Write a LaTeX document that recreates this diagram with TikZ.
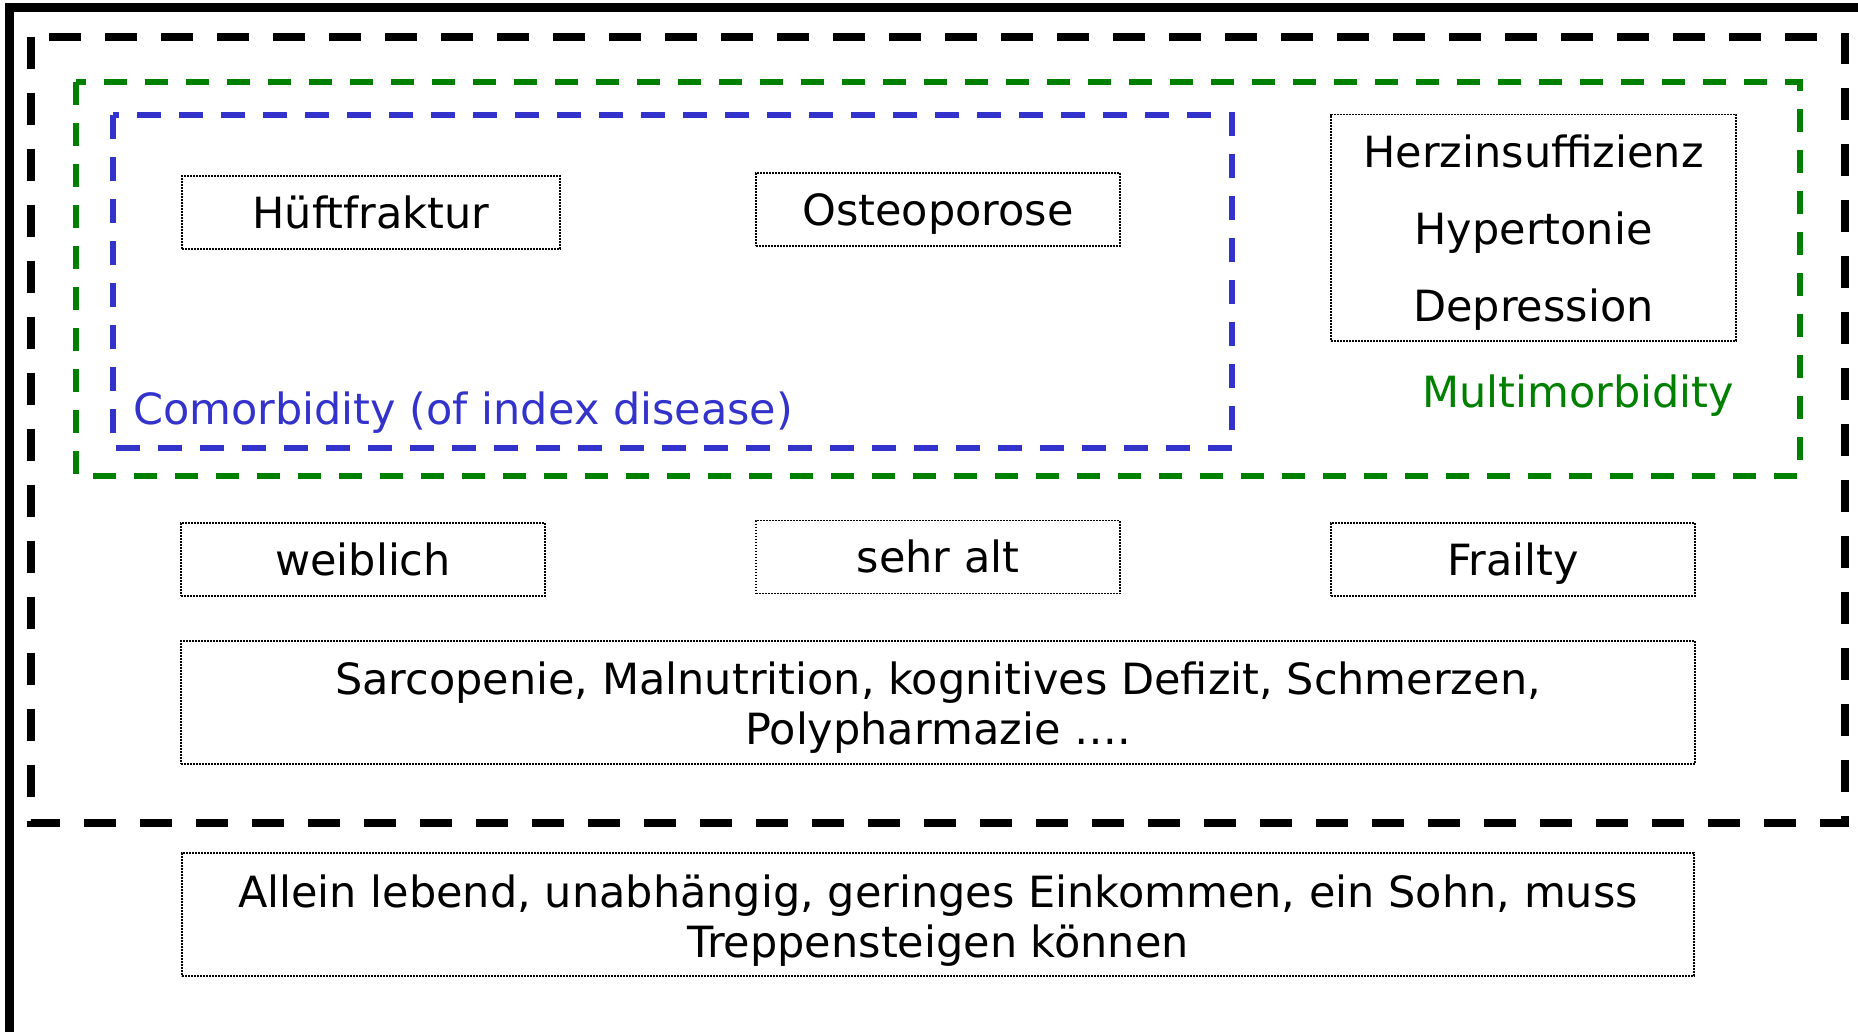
\documentclass[tikz,border=0pt]{standalone}
\usepackage{fontspec}
\setmainfont{DejaVu Sans}
\definecolor{mgreen}{RGB}{0,128,0}
\definecolor{mblue}{RGB}{51,51,204}
\begin{document}
\begin{tikzpicture}[x=1pt,y=-1pt,
  box/.style={draw=black, line width=1.6pt, dash pattern=on 1.6pt off 1.4pt,
    inner sep=0pt, minimum height=73pt, text height=31pt, text depth=0pt,
    font=\fontsize{43}{50}\selectfont},
  txt/.style={font=\fontsize{43}{50}\selectfont, inner sep=0pt, anchor=base},
  frame/.style={line width=9pt, line join=miter},
  allbox/.style={draw=black, line width=8pt, dash pattern=on 32pt off 24pt},
  multibox/.style={draw=mgreen, line width=6pt, dash pattern=on 23pt off 18pt},
  cobox/.style={draw=mblue, line width=5.5pt, dash pattern=on 24pt off 18pt},
]
\useasboundingbox (0,0) rectangle (1858,1031);
\clip (0,0) rectangle (1858,1031);
\fill[white] (0,0) rectangle (1858,1031);

% outer solid frame
\draw[frame] (9.5,1060) -- (9.5,7) -- (1890,7);

% dashed regions
\draw[allbox] (30.7,36.7) rectangle (1845,823.3);
\draw[multibox] (76.3,82.3) rectangle (1799.5,475.5);
\draw[cobox] (113,115) rectangle (1232,448);

% single-line boxes
\node[box, minimum width=378pt] (hueft) at (371,212.5) {Hüftfraktur};
\node[box, minimum width=364pt] (osteo) at (938,209.5) {Osteoporose};
\node[box, minimum width=364pt] (weib) at (363,559.5) {weiblich};
\node[box, minimum width=364pt] (alt) at (938,557) {sehr alt};
\node[box, minimum width=364pt] (frail) at (1513,559.5) {Frailty};

% multi-line boxes
\node[box, minimum width=405pt, minimum height=226.5pt] (herz) at (1533.5,227.75) {};
\node[txt] (herz1) at (1533.5,167) {Herzinsuffizienz};
\node[txt] (herz2) at (1533.5,244) {Hypertonie};
\node[txt] (herz3) at (1533.5,321) {Depression};

\node[box, minimum width=1514pt, minimum height=123pt] (sarc) at (938,702.5) {};
\node[txt] (sarc1) at (938,694) {Sarcopenie, Malnutrition, kognitives Defizit, Schmerzen,};
\node[txt] (sarc2) at (938,744) {Polypharmazie ….};

\node[box, minimum width=1512pt, minimum height=123pt] (allein) at (938,914.5) {};
\node[txt] (allein1) at (938,907) {Allein lebend, unabhängig, geringes Einkommen, ein Sohn, muss};
\node[txt] (allein2) at (938,957) {Treppensteigen können};

% labels
\node[txt, anchor=base east, text=mgreen] (multi) at (1734,407) {Multimorbidity};
\node[txt, anchor=base west, text=mblue] (como) at (133,424) {Comorbidity (of index disease)};
\end{tikzpicture}
\end{document}
